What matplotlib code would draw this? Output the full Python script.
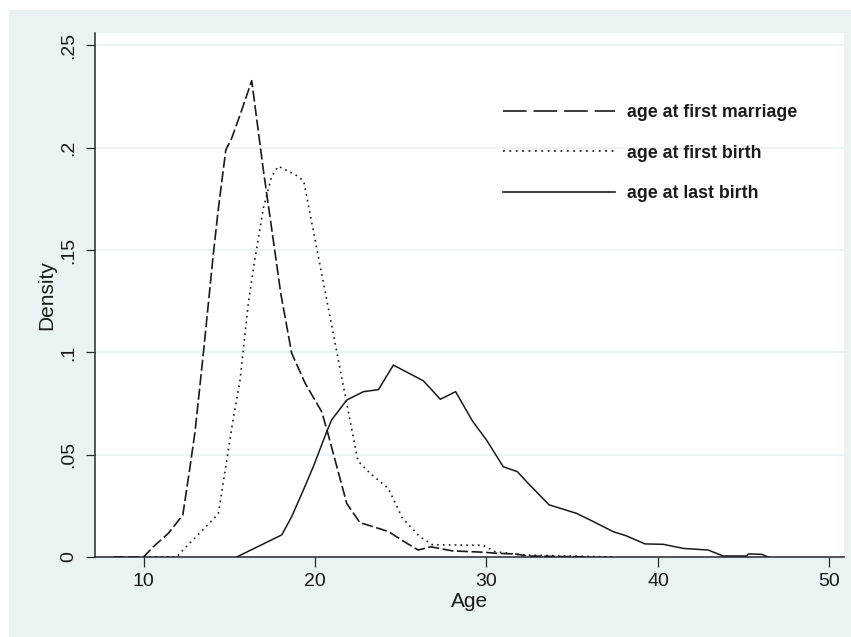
import matplotlib
matplotlib.use('Agg')
import matplotlib.pyplot as plt
from matplotlib.lines import Line2D
from matplotlib.patches import Rectangle

plt.rcParams['font.family'] = ['Liberation Sans', 'DejaVu Sans']
plt.rcParams['lines.scale_dashes'] = False

# ---- data ----
marriage_x = [8.24, 10.0, 10.57, 11.45, 12.29, 12.71, 13.0, 13.49, 14.07, 14.36, 14.8,
              15.14, 15.73, 16.31, 16.99, 17.7, 18.0, 18.64, 19.42, 20.39, 20.7, 21.85,
              22.62, 23.7, 24.3, 25.1, 26.02, 26.75, 28.0, 29.9, 30.6, 31.66, 32.4, 36.0]
marriage_y = [0.0, 0.0, 0.005, 0.0116, 0.0205, 0.044, 0.061, 0.0996, 0.148, 0.170, 0.199,
              0.2046, 0.2185, 0.2328, 0.189, 0.147, 0.129, 0.0996, 0.085, 0.071, 0.062, 0.0262,
              0.0168, 0.014, 0.0124, 0.008, 0.0034, 0.005, 0.003, 0.0023, 0.0018, 0.0015, 0.0005, 0.0]

firstbirth_x = [10.0, 11.94, 12.3, 14.36, 15.24, 15.63, 16.11, 16.5, 17.0, 17.47, 17.86,
                19.03, 19.35, 22.5, 23.2, 24.27, 25.1, 26.1, 26.85, 29.8, 30.5, 32.1, 37.4]
firstbirth_y = [0.0, 0.0, 0.0034, 0.021, 0.068, 0.0865, 0.124, 0.146, 0.171, 0.186, 0.191,
                0.186, 0.1834, 0.047, 0.041, 0.0336, 0.019, 0.010, 0.006, 0.0057, 0.0026, 0.001, 0.0]

lastbirth_x = [15.43, 18.06, 18.64, 19.32, 19.9, 20.68, 20.97, 21.85, 22.82, 23.7, 24.57,
               26.32, 27.31, 28.2, 29.18, 30.0, 30.98, 31.8, 32.34, 33.65, 35.26, 36.04,
               37.39, 38.17, 39.24, 40.31, 41.48, 42.93, 43.8, 45.17, 45.27, 46.05, 46.43]
lastbirth_y = [0.0, 0.0108, 0.0197, 0.0327, 0.0441, 0.0612, 0.067, 0.0767, 0.0808, 0.0818, 0.0938,
               0.0861, 0.0771, 0.0808, 0.0665, 0.0572, 0.0441, 0.0417, 0.0368, 0.0255, 0.0213, 0.0181,
               0.0124, 0.0103, 0.0064, 0.0062, 0.0042, 0.0034, 0.0005, 0.0005, 0.0015, 0.0013, 0.0]

series_labels = ['age at first marriage', 'age at first birth', 'age at last birth']
xticks = [10, 20, 30, 40, 50]
xtick_labels = ['10', '20', '30', '40', '50']
yticks = [0, 0.05, 0.1, 0.15, 0.2, 0.25]
ytick_labels = ['0', '.05', '.1', '.15', '.2', '.25']
xlabel = 'Age'
ylabel = 'Density'

# ---- figure ----
W, H = 851, 637
BG = '#EAF2F3'
INK = '#1a1a1a'
fig = plt.figure(figsize=(W / 100, H / 100), dpi=100, facecolor='white')
fig.patches.append(Rectangle((9 / W, 0), (W - 9) / W, (H - 10) / H,
                             transform=fig.transFigure, facecolor=BG, edgecolor='none', zorder=-5))

ax = fig.add_axes([95 / W, 1 - 557 / H, (844 - 95) / W, (557 - 33) / H])
ax.set_facecolor('white')

ax.plot(marriage_x, marriage_y, color=INK, lw=1.2, dashes=(8, 2.5), zorder=3)
ax.plot(firstbirth_x, firstbirth_y, color=INK, lw=1.2, dashes=(1.2, 3.0), zorder=3)
ax.plot(lastbirth_x, lastbirth_y, color=INK, lw=1.1, zorder=3)

ax.set_xlim(7.17, 50.85)
ax.set_ylim(0, 0.2561)

ax.set_xticks(xticks, labels=xtick_labels)
ax.set_yticks(yticks, labels=ytick_labels)
ax.yaxis.grid(True, color=BG, lw=1.3)
ax.set_axisbelow(True)

for s in ['top', 'right']:
    ax.spines[s].set_visible(False)
for s in ['left', 'bottom']:
    ax.spines[s].set_color('#2a2a2a')
    ax.spines[s].set_linewidth(1.1)

ax.tick_params(axis='x', length=7.2, width=0.9, pad=4.5, labelsize=14,
               color='#2a2a2a', labelcolor=INK)
ax.tick_params(axis='y', length=6.5, width=0.9, pad=6, labelsize=14,
               color='#2a2a2a', labelcolor=INK, labelrotation=90)
for lbl in ax.get_yticklabels():
    lbl.set_va('center')

ax.set_xlabel(xlabel, fontsize=15, color=INK, labelpad=1)
ax.set_ylabel(ylabel, fontsize=15, color=INK, labelpad=3)

handles = [Line2D([], [], color=INK, lw=1.2, dashes=(17, 5)),
           Line2D([], [], color=INK, lw=1.2, dashes=(1.3, 3.3)),
           Line2D([], [], color=INK, lw=1.2)]
leg = ax.legend(handles, series_labels, loc='upper left',
                bbox_to_anchor=(503 / W, 1 - 104 / H), bbox_transform=fig.transFigure,
                frameon=False, borderpad=0, borderaxespad=0,
                handlelength=6.3, handletextpad=0.65, labelspacing=1.33,
                prop={'family': 'Liberation Sans', 'weight': 'bold', 'size': 12.8})
for t in leg.get_texts():
    t.set_color(INK)

fig.savefig('out.png', dpi=100, facecolor=fig.get_facecolor())
